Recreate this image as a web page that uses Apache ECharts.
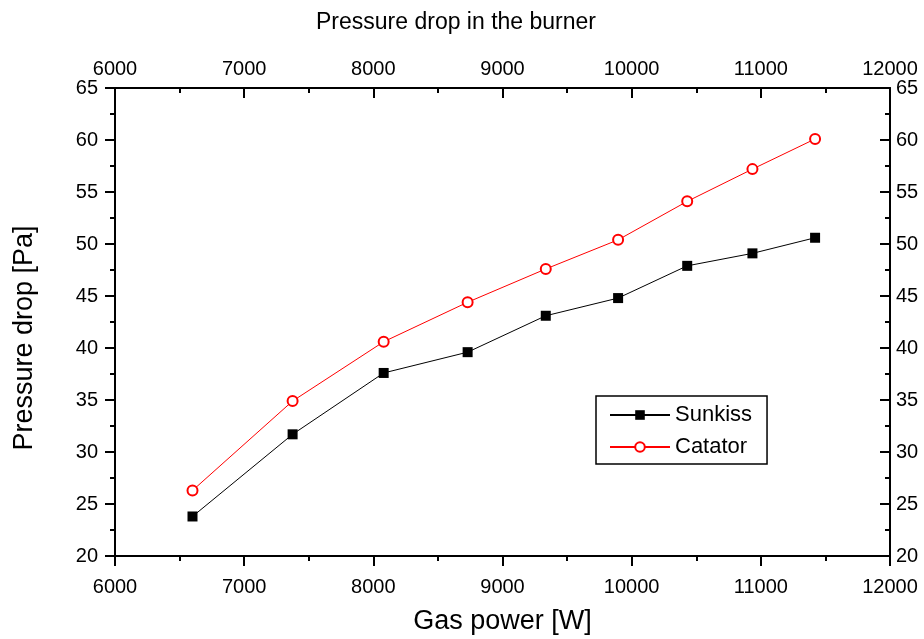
<!DOCTYPE html>
<html>
<head>
<meta charset="utf-8">
<script src="https://cdn.jsdelivr.net/npm/echarts@6/dist/echarts.min.js"></script>
<style>
html,body{margin:0;padding:0;background:#fff;}
#chart{width:924px;height:639px;}
</style>
</head>
<body>
<div id="chart"></div>
<script>
var gasPower = [6600, 7375, 8080, 8730, 9335, 9895, 10430, 10935, 11420];
var sunkiss = [23.8, 31.7, 37.6, 39.6, 43.1, 44.8, 47.9, 49.1, 50.6];
var catator = [26.3, 34.9, 40.6, 44.4, 47.6, 50.4, 54.1, 57.2, 60.1];
var seriesNames = ['Sunkiss', 'Catator'];

var FONT = '"Liberation Sans", Arial, sans-serif';

function pairs(xs, ys) { return xs.map(function (x, i) { return [x, ys[i]]; }); }
function plain(v) { return String(v); }

function xAxisDef(pos, inside, name, nameGap) {
  return {
    type: 'value', position: pos, min: 6000, max: 12000, interval: 1000,
    name: name, nameLocation: 'middle', nameGap: nameGap,
    nameTextStyle: { fontFamily: FONT, fontSize: 27, color: '#000' },
    axisLine: { show: true, onZero: false, lineStyle: { color: '#000', width: 2 } },
    axisTick: { show: true, inside: inside, length: 10, lineStyle: { color: '#000', width: 2 } },
    minorTick: { show: true, splitNumber: 2, length: 5, lineStyle: { color: '#000', width: 2 } },
    axisLabel: { show: true, formatter: plain, fontFamily: FONT, fontSize: 20, color: '#000', margin: pos === 'bottom' ? 21 : 9 },
    splitLine: { show: false }
  };
}
function yAxisDef(pos, inside) {
  return {
    type: 'value', position: pos, min: 20, max: 65, interval: 5,
    axisLine: { show: true, onZero: false, lineStyle: { color: '#000', width: 2 } },
    axisTick: { show: true, inside: inside, length: 10, lineStyle: { color: '#000', width: 2 } },
    minorTick: { show: true, splitNumber: 2, length: 5, lineStyle: { color: '#000', width: 2 } },
    axisLabel: { show: true, formatter: plain, fontFamily: FONT, fontSize: 20, color: '#000', margin: pos === 'left' ? 17 : 6 },
    splitLine: { show: false }
  };
}

var chart = echarts.init(document.getElementById('chart'), null, { renderer: 'canvas' });
chart.setOption({
  backgroundColor: '#fff',
  animation: false,
  title: {
    text: 'Pressure drop in the burner',
    left: 451, top: 6, textAlign: 'center',
    textStyle: { fontFamily: FONT, fontSize: 23, fontWeight: 'normal', color: '#000' }
  },
  graphic: [{
    type: 'text', x: 25, y: 338, rotation: Math.PI / 2,
    style: {
      text: 'Pressure drop [Pa]', fill: '#000',
      font: '27px ' + FONT, textAlign: 'center', textVerticalAlign: 'middle'
    }
  }],
  grid: { left: 115, right: 34, top: 88, bottom: 83, containLabel: false, outerBoundsMode: 'none' },
  xAxis: [
    xAxisDef('bottom', false, 'Gas power [W]', 52),
    xAxisDef('top', true, '', 0)
  ],
  yAxis: [
    yAxisDef('left', false),
    yAxisDef('right', true)
  ],
  legend: {
    left: 596, top: 396,
    orient: 'vertical',
    data: seriesNames,
    itemWidth: 60, itemHeight: 12, itemGap: 10, itemTextGap: 7,
    padding: [8, 15, 6, 13],
    borderColor: '#000', borderWidth: 1.5,
    textStyle: { fontFamily: FONT, fontSize: 22, color: '#000', lineHeight: 22 }
  },
  series: [
    {
      name: seriesNames[0], type: 'line', xAxisIndex: 0, yAxisIndex: 0,
      data: pairs(gasPower, sunkiss),
      symbol: 'rect', symbolSize: 10,
      lineStyle: { color: '#000', width: 1 },
      itemStyle: { color: '#000' }
    },
    {
      name: seriesNames[1], type: 'line', xAxisIndex: 0, yAxisIndex: 0,
      data: pairs(gasPower, catator),
      symbol: 'emptyCircle', symbolSize: 10,
      lineStyle: { color: '#ff0000', width: 1 },
      itemStyle: { color: '#ff0000', borderWidth: 1.5 }
    }
  ]
});
</script>
</body>
</html>
